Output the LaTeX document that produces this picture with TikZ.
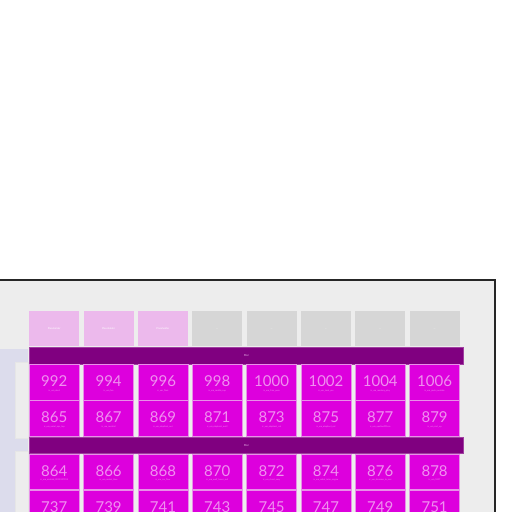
\documentclass[tikz,border=0pt]{standalone}
\usepackage{fontspec}
\setmainfont{Lato}
\definecolor{bgray}{HTML}{EDEDED}
\definecolor{lav}{HTML}{DCDCEC}
\definecolor{hpink}{HTML}{ECB9EC}
\definecolor{hgray}{HTML}{D6D6D6}
\definecolor{barpurple}{HTML}{800080}
\definecolor{baredge}{HTML}{A040A0}
\definecolor{tmag}{HTML}{DD00DD}
\definecolor{tedge}{HTML}{E890E8}
\definecolor{ttext}{HTML}{F090F0}
\tikzset{
  tilebox/.style={rectangle, fill=tmag, draw=tedge, line width=0.6pt, minimum width=50pt, minimum height=35.5pt, anchor=north west, inner sep=0pt},
  numtext/.style={text=ttext, font=\fontsize{15}{15}\selectfont, inner sep=0pt},
  subtext/.style={text=ttext, font=\fontsize{2.2}{2.5}\selectfont, inner sep=0pt},
  headbox/.style={rectangle, minimum width=50pt, minimum height=35pt, anchor=north west, inner sep=0pt, text=white, font=\fontsize{2.5}{3}\selectfont},
  barbox/.style={rectangle, fill=barpurple, draw=baredge, line width=0.6pt, minimum width=434pt, minimum height=16.5pt, anchor=north west, inner sep=0pt, text=hpink, font=\fontsize{2.8}{3}\selectfont},
  sidepanel/.style={rectangle, fill=bgray, draw=hgray!60, line width=0.4pt, minimum width=13pt, anchor=north west, inner sep=0pt}
}
\begin{document}
\begin{tikzpicture}[x=1pt,y=-1pt]
\useasboundingbox (0,0) rectangle (512,512);
\clip (0,0) rectangle (512,512);
\fill[white] (0,0) rectangle (512,512);
% outer frame
\node (frame) [rectangle, fill=bgray, draw=black!85, line width=1.5pt, anchor=north west, minimum width=504pt, minimum height=260pt, inner sep=0pt] at (-10,279) {};
% lavender strip
\fill[lav] (0,349) rectangle (28,520);
\node (side1) [sidepanel, minimum height=76pt] at (15,362) {};
\node (side2) [sidepanel, minimum height=70pt] at (15,451) {};
% headers
\foreach \i/\c/\t in {0/hpink/Placeholder,1/hpink/Placeholder,2/hpink/Placeholder,3/hgray/---,4/hgray/---,5/hgray/---,6/hgray/---,7/hgray/---}{
  \node (h\i) [headbox, fill=\c] at ({29+\i*54.33},311) {\t};
}
% bars
\node (bar1) [barbox] at (29,347) {Mar};
\node (bar2) [barbox] at (29,436.5) {Mar};
% tiles
\foreach \i/\a/\sa/\b/\sb/\c/\sc/\d/\sd in {
 0/992/ic\_um\_devil/865/ic\_um\_aerial\_ops\_top/864/ic\_um\_android\_0012837815/737/ic\_um\_a,
 1/994/ic\_um\_fire/867/ic\_um\_aerofoil/866/ic\_um\_rocket\_blue/739/ic\_um\_b,
 2/996/ic\_um\_flask/869/ic\_um\_elephant\_out/868/ic\_um\_ice\_flow/741/ic\_um\_c,
 3/998/ic\_um\_saddle\_cup/871/ic\_um\_elephant\_out2/870/ic\_um\_wolf\_hasec\_evil/743/ic\_um\_d,
 4/1000/ic\_um\_fries\_pom/873/ic\_um\_elephant\_col/872/ic\_um\_chest\_easy/745/ic\_um\_e,
 5/1002/ic\_um\_tank\_yes/875/ic\_um\_elephant\_col/874/ic\_um\_robot\_tales\_engine/747/ic\_um\_f,
 6/1004/ic\_um\_monkey\_play/877/ic\_um\_apollon001cre/876/ic\_um\_dinosaur\_lo\_mai/749/ic\_um\_g,
 7/1006/ic\_um\_parks\_outside/879/ic\_um\_cart\_up/878/ic\_um\_1007/751/ic\_um\_h}{
  \foreach \r/\y/\n/\s in {1/364/\a/\sa, 2/400/\b/\sb, 3/453.5/\c/\sc, 4/489.5/\d/\sd}{
    \node (t\r-\i) [tilebox] at ({29+\i*54.33},\y) {};
    \node (n\r-\i) [numtext] at ([yshift=0.5pt]t\r-\i.center) {\n};
    \node (s\r-\i) [subtext] at ([yshift=-8.5pt]t\r-\i.center) {\s};
  }
}
\end{tikzpicture}
\end{document}
